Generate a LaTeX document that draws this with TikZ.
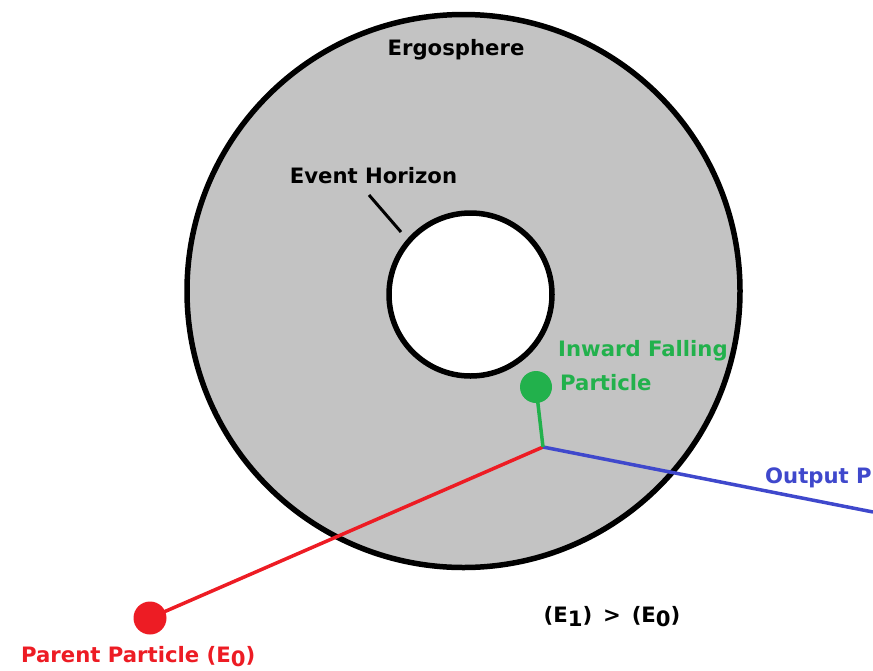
\documentclass[tikz,border=0pt]{standalone}
\usepackage{fontspec}
\setmainfont{DejaVu Sans}
\definecolor{ergogray}{HTML}{C3C3C3}
\definecolor{pred}{HTML}{ED1C24}
\definecolor{pgreen}{HTML}{22B14C}
\definecolor{pblue}{HTML}{3F48CC}
\newcommand{\lowsub}[1]{\raisebox{-0.4ex}{#1}}
\begin{document}
\begin{tikzpicture}[x=1pt,y=-1pt,
  lbl/.style={inner sep=0pt,font=\fontsize{21.2}{25}\selectfont\bfseries},
  ring/.style={circle,draw=black,line width=5.5pt,inner sep=0pt},
  dot/.style={circle,inner sep=0pt}]
\useasboundingbox (0,0) rectangle (873,670);
% ergosphere and horizon
\node[ring,fill=ergogray,minimum size=553pt] (ergo) at (463.5,291) {};
\node[ring,fill=white,minimum size=163pt] (horizon) at (470.5,294.5) {};
% labels
\node[lbl,anchor=base] (ergolbl) at (456,55) {Ergosphere};
\node[lbl,anchor=base] (horlbl) at (373.5,183) {Event Horizon};
\coordinate (ptrA) at (369,195);
\coordinate (ptrB) at (401,232);
\draw[line width=3pt] (ptrA) -- (ptrB);
% particles
\coordinate (split) at (543,447);
\coordinate (outend) at (873,512);
\node[dot,fill=pred,minimum size=33pt] (parent) at (150,618) {};
\node[dot,fill=pgreen,minimum size=32pt] (inward) at (536,387) {};
\draw[pred,line width=3.5pt] (split) -- (parent.center);
\draw[pblue,line width=3.5pt] (split) -- (outend);
\draw[pgreen,line width=3.5pt] (inward.center) -- (split);
\node[lbl,text=pgreen,anchor=base west] (inlbl1) at (558,356) {Inward Falling};
\node[lbl,text=pgreen,anchor=base west] (inlbl2) at (560,390) {Particle};
\node[lbl,text=pblue,anchor=base west] (outlbl) at (765,483) {Output P};
\node[lbl,text=pred,anchor=base west] (parlbl) at (21,662) {Parent Particle (E\lowsub{0})};
\node[lbl,anchor=base] (ineq) at (612,622) {(E\lowsub{1}) \,>\, (E\lowsub{0})};
\end{tikzpicture}
\end{document}
